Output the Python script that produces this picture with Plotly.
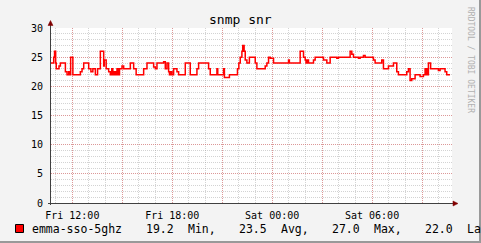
import pandas as pd
import plotly.graph_objects as go

# ---- data ----
base_time = "2023-06-02 12:00"   # Fri 12:00
minutes = [-77, -67, -64, -60, -58, -48, -43, -25, -19, -13, -10, -6, 2, 29, 35, 41, 59, 67, 74, 83,
           91, 101, 113, 115, 122, 131, 137, 142, 146, 151, 156, 161, 166, 170, 179, 185, 209, 221, 230, 257,
           269, 293, 299, 305, 329, 335, 341, 347, 350, 354, 359, 365, 377, 383, 407, 425, 449, 455, 491, 497,
           521, 524, 545, 548, 566, 595, 600, 605, 611, 614, 619, 623, 629, 638, 659, 665, 695, 701, 707, 713,
           725, 779, 782, 821, 833, 839, 842, 846, 851, 869, 875, 905, 917, 929, 953, 959, 1001, 1007, 1013, 1031,
           1037, 1049, 1055, 1085, 1091, 1115, 1121, 1139, 1157, 1169, 1175, 1205, 1211, 1217, 1223, 1235, 1253, 1265, 1271, 1273,
           1276, 1278, 1283, 1291, 1319, 1325, 1343, 1349, 1361]
snr = [24, 25, 26, 24, 23, 23.5, 24, 22.5, 22, 22.5, 22, 25, 22, 22.5, 23, 24, 23, 22.5, 23, 22,
       23, 26, 23.5, 24.5, 23, 22.5, 22, 23, 22, 22.5, 22, 23, 22, 23, 23.5, 23, 24, 23, 22, 23,
       24, 23.3, 23, 24, 24.2, 23, 24, 22.5, 22, 22.5, 22, 23, 22.5, 22, 24, 22, 23, 24, 23, 22,
       23, 22, 23, 21.5, 22, 23, 24, 25, 26, 27, 26, 24.5, 24, 25, 24, 23, 23.5, 24, 25, 24.8,
       24, 24.5, 24, 26, 25, 24.5, 24, 24.5, 24, 24.5, 25, 24.5, 24, 25, 24.8, 25, 26, 25.5, 25, 24.8,
       25, 25.3, 25, 24.5, 24, 24.5, 23, 23.5, 24, 22.5, 22, 22.5, 23, 21, 21.3, 22, 21.7, 22, 23, 22,
       23, 22, 24, 23, 22.7, 23, 22.5, 22, 22]
series_name = "emma-sso-5ghz"
legend_items = ["emma-sso-5ghz", "19.2", "Min,", "23.5", "Avg,", "27.0", "Max,", "22.0", "Last"]
x_tick_hours = [0, 3, 6, 9, 12, 15, 18, 21]          # hours after Fri 12:00
x_tick_text = ["Fri 12:00", "", "Fri 18:00", "", "Sat 00:00", "", "Sat 06:00", ""]
y_tick_vals = [0, 5, 10, 15, 20, 25, 30]

t0 = pd.Timestamp(base_time)
times = [t0 + pd.Timedelta(minutes=m) for m in minutes]
tickvals = [t0 + pd.Timedelta(hours=h) for h in x_tick_hours]

# ---- layout geometry ----
W, H = 481, 243
L, R, T, B = 51, 29, 28, 40
PW, PH = W - L - R, H - T - B
def px(x):  # pixel x -> paper
    return (x - L) / PW
def py(y):  # pixel y -> paper
    return (H - B - y) / PH

FONT = "DejaVu Sans Mono"
fig = go.Figure()
fig.add_trace(go.Scatter(x=times, y=snr, mode="lines", line=dict(color="#ff0000", width=1.5, shape="hv"),
                         name=series_name, showlegend=False, hoverinfo="skip"))

grid_minor = "rgba(140,140,140,0.38)"
grid_major = "rgba(230,80,80,0.45)"
fig.update_xaxes(range=[t0 + pd.Timedelta(minutes=-76.8), t0 + pd.Timedelta(minutes=1368)],
                 tickvals=tickvals, ticktext=x_tick_text, showgrid=True, gridcolor=grid_major,
                 griddash="1px,1px", gridwidth=1, showline=False, zeroline=False,
                 ticks="outside", ticklen=3, tickcolor="rgba(0,0,0,0)",
                 tickfont=dict(family=FONT, size=10, color="#000"),
                 minor=dict(dtick=3600000, tick0=base_time, showgrid=True, gridcolor=grid_minor,
                            griddash="1px,1px", ticks=""))
fig.update_yaxes(range=[0, 30], tickvals=y_tick_vals, showgrid=True, gridcolor=grid_major,
                 griddash="1px,1px", showline=False, zeroline=False,
                 ticks="outside", ticklen=5, tickcolor="rgba(0,0,0,0)",
                 tickfont=dict(family=FONT, size=10, color="#000"),
                 minor=dict(dtick=1, showgrid=True, gridcolor=grid_minor, griddash="1px,1px", ticks=""))

shapes = []
axis_col = "#404040"
arrow_col = "#800000"
# axis lines
shapes.append(dict(type="line", xref="paper", yref="paper", x0=px(50.5), x1=px(50.5), y0=py(205), y1=py(24),
                   line=dict(color=axis_col, width=1)))
shapes.append(dict(type="line", xref="paper", yref="paper", x0=px(48), x1=px(454), y0=py(203.5), y1=py(203.5),
                   line=dict(color=axis_col, width=1)))
# arrows
shapes.append(dict(type="path", xref="paper", yref="paper",
                   path=f"M {px(50.5)} {py(20.5)} L {px(48)} {py(25.5)} L {px(53)} {py(25.5)} Z",
                   fillcolor=arrow_col, line=dict(color=arrow_col, width=0.5)))
shapes.append(dict(type="path", xref="paper", yref="paper",
                   path=f"M {px(458)} {py(203.5)} L {px(453)} {py(201)} L {px(453)} {py(206)} Z",
                   fillcolor=arrow_col, line=dict(color=arrow_col, width=0.5)))
# legend swatch
shapes.append(dict(type="rect", xref="paper", yref="paper", x0=px(15.5), x1=px(23.5), y0=py(224.5), y1=py(232.5),
                   fillcolor="#ff0000", line=dict(color="#000", width=1)))
# frame shading
shapes.append(dict(type="line", xref="paper", yref="paper", x0=px(0), x1=px(481), y0=py(242), y1=py(242),
                   line=dict(color="#999999", width=2)))
shapes.append(dict(type="line", xref="paper", yref="paper", x0=px(480), x1=px(480), y0=py(0), y1=py(243),
                   line=dict(color="#999999", width=2)))

annotations = [
    dict(text="snmp snr", xref="paper", yref="paper", x=px(240), y=py(20), showarrow=False,
         xanchor="center", yanchor="middle", font=dict(family=FONT, size=13, color="#000")),
    dict(text="RRDTOOL / TOBI OETIKER", xref="paper", yref="paper", x=px(471), y=py(60), showarrow=False,
         textangle=90, xanchor="center", yanchor="middle", font=dict(family=FONT, size=8, color="#b0b0b0")),
]
legend_x = [30, 144, 185.7, 237.3, 278.7, 330, 371.7, 423.3, 465]
for txt, lx in zip(legend_items, legend_x):
    annotations.append(dict(text=txt, xref="paper", yref="paper", x=px(lx), y=py(229), showarrow=False,
                            xanchor="left", yanchor="middle", font=dict(family=FONT, size=11.5, color="#000")))

fig.update_layout(width=W, height=H, margin=dict(l=L, r=R, t=T, b=B, pad=0),
                  paper_bgcolor="#f3f3f3", plot_bgcolor="#ffffff",
                  shapes=shapes, annotations=annotations, showlegend=False)
fig.write_html("out.html", config={"displayModeBar": False})
